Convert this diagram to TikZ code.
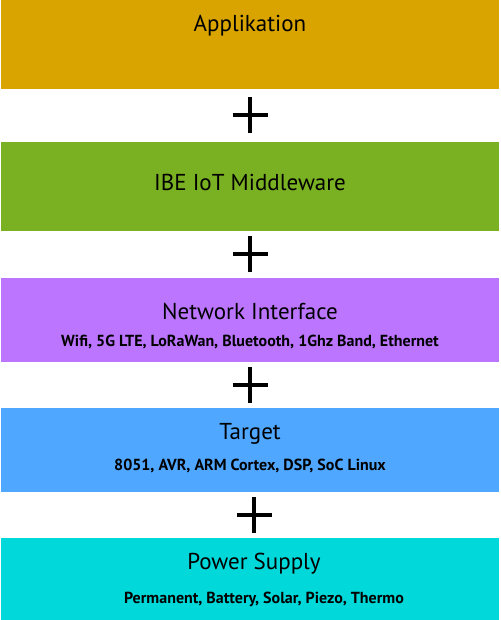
\documentclass[tikz,border=0pt]{standalone}
\usepackage{fontspec}
\setmainfont{PT Sans}
\usetikzlibrary{positioning}

\definecolor{appcol}{HTML}{D9A400}
\definecolor{mwcol}{HTML}{7AB122}
\definecolor{netcol}{HTML}{BB75FF}
\definecolor{tgtcol}{HTML}{4FA7FF}
\definecolor{pwrcol}{HTML}{00D8DA}

\begin{document}
\begin{tikzpicture}[x=1pt,y=-1pt,
	layer/.style={minimum width=498pt, minimum height=84pt, inner sep=0pt, anchor=north},
	title/.style={anchor=base, inner sep=0pt, font=\fontsize{23}{27}\selectfont},
	subtitle/.style={anchor=base, inner sep=0pt, font=\bfseries\fontsize{16}{19}\selectfont},
	plus/.style={line width=4pt}]
	\useasboundingbox (0,0) rectangle (500,620);

	\node[layer, fill=appcol, minimum height=89pt] (app) at (250,0) {};
	\node[layer, fill=mwcol, minimum height=89pt] (mw) [below=52pt of app] {};
	\node[layer, fill=netcol] (net) [below=47pt of mw] {};
	\node[layer, fill=tgtcol] (tgt) [below=46pt of net] {};
	\node[layer, fill=pwrcol] (pwr) [below=45pt of tgt] {};

	\node[title] (apptitle) at ([yshift=-31.7pt]app.north) {Applikation};
	\node[title] (mwtitle) at ([yshift=-49pt]mw.north) {IBE IoT Middleware};
	\node[title] (nettitle) at ([yshift=-41.3pt]net.north) {Network Interface};
	\node[subtitle] (netsub) at ([yshift=-69pt]net.north) {Wifi, 5G LTE, LoRaWan, Bluetooth, 1Ghz Band, Ethernet};
	\node[title] (tgttitle) at ([yshift=-31pt]tgt.north) {Target};
	\node[subtitle] (tgtsub) at ([yshift=-62pt]tgt.north) {8051, AVR, ARM Cortex, DSP, SoC Linux};
	\node[title] (pwrtitle) at ([xshift=4pt,yshift=-32pt]pwr.north) {Power Supply};
	\node[subtitle] (pwrsub) at ([xshift=14pt,yshift=-65.7pt]pwr.north) {Permanent, Battery, Solar, Piezo, Thermo};

	\foreach \a/\b/\s in {app/mw/0, mw/net/0, net/tgt/0, tgt/pwr/4} {
		\path (\a.south) -- (\b.north) coordinate[midway] (p\a);
		\draw[plus] ([xshift=\s pt-17.5pt]p\a) -- ([xshift=\s pt+17.5pt]p\a)
			([xshift=\s pt,yshift=-18pt]p\a) -- ([xshift=\s pt,yshift=18pt]p\a);
	}
\end{tikzpicture}
\end{document}
